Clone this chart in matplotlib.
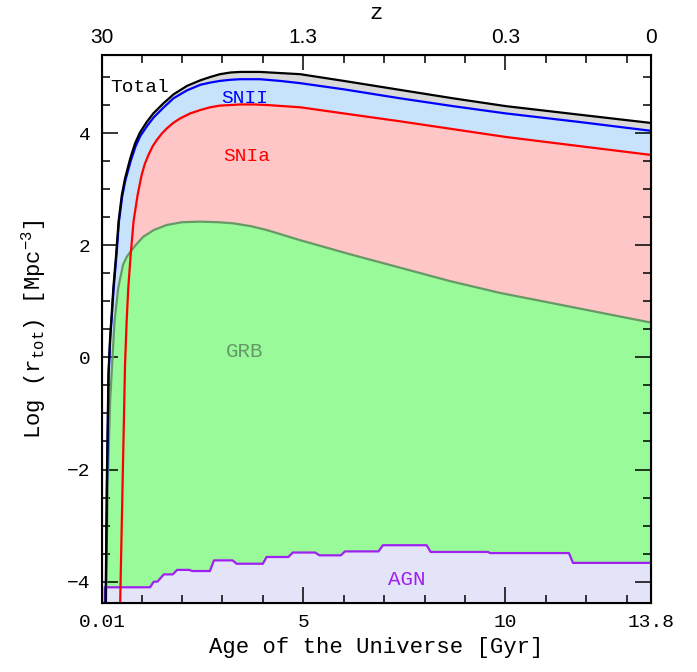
import numpy as np
import matplotlib
matplotlib.use("Agg")
import matplotlib.pyplot as plt
from matplotlib.ticker import FixedLocator, FixedFormatter

plt.rcParams['font.family'] = ['Liberation Mono', 'DejaVu Sans']
plt.rcParams['mathtext.fontset'] = 'custom'
plt.rcParams['mathtext.rm'] = 'Liberation Mono'
plt.rcParams['mathtext.it'] = 'Liberation Mono'

# =============================================================================
# Data (age in Gyr, log rate)
# =============================================================================
total_t = [0.10, 0.11, 0.14, 0.18, 0.22, 0.26, 0.30, 0.37, 0.43, 0.51, 0.59, 0.72, 0.84,
           0.96, 1.13, 1.29, 1.54, 1.79, 2.12, 2.45, 2.70, 2.94, 3.20, 3.44, 3.93, 4.42,
           4.92, 6.0, 7.39, 8.7, 10.01, 11.8, 13.6]
total_y = [-5.0, -4.38, -2.24, -0.3, 0.34, 0.76, 1.23, 1.83, 2.42, 2.89, 3.19, 3.55, 3.82,
           4.01, 4.20, 4.35, 4.53, 4.69, 4.84, 4.94, 5.00, 5.05, 5.08, 5.09, 5.09, 5.07,
           5.05, 4.93, 4.77, 4.62, 4.48, 4.33, 4.18]

snii_t = [0.10, 0.115, 0.145, 0.185, 0.225, 0.265, 0.31, 0.38, 0.44, 0.52, 0.60, 0.73, 0.85,
          0.97, 1.14, 1.30, 1.55, 1.79, 2.12, 2.45, 2.70, 2.94, 3.20, 3.44, 3.93, 4.42,
          4.92, 6.0, 7.39, 8.7, 10.01, 11.8, 13.6]
snii_y = [-5.0, -4.38, -2.24, -0.3, 0.34, 0.76, 1.23, 1.83, 2.42, 2.87, 3.16, 3.50, 3.76,
          3.95, 4.13, 4.28, 4.46, 4.62, 4.76, 4.86, 4.90, 4.93, 4.95, 4.96, 4.96, 4.93,
          4.89, 4.78, 4.62, 4.48, 4.35, 4.20, 4.04]

snia_t = [0.45, 0.47, 0.59, 0.63, 0.67, 0.73, 0.80, 0.90, 1.00, 1.08, 1.17, 1.27, 1.38,
          1.50, 1.62, 1.78, 1.95, 2.20, 2.45, 2.70, 2.94, 3.20, 3.44, 3.80, 4.10, 4.92,
          6.2, 7.39, 8.7, 10.01, 11.8, 13.6]
snia_y = [-5.0, -4.38, -0.14, 0.64, 1.23, 1.83, 2.42, 2.89, 3.25, 3.45, 3.61, 3.76, 3.88,
          3.99, 4.08, 4.18, 4.26, 4.35, 4.41, 4.46, 4.49, 4.50, 4.51, 4.51, 4.50, 4.46,
          4.33, 4.21, 4.07, 3.93, 3.77, 3.61]

grb_t = [0.10, 0.12, 0.16, 0.22, 0.27, 0.33, 0.42, 0.54, 0.63, 0.72, 0.85, 1.04, 1.30,
         1.62, 2.00, 2.45, 2.90, 3.27, 3.70, 4.10, 4.92, 6.15, 7.39, 8.63, 9.86, 11.1,
         12.33, 13.6]
grb_y = [-5.0, -4.38, -2.3, -0.8, -0.14, 0.64, 1.23, 1.65, 1.79, 1.88, 2.00, 2.15, 2.27,
         2.36, 2.41, 2.42, 2.41, 2.39, 2.34, 2.27, 2.09, 1.84, 1.60, 1.36, 1.15, 0.975,
         0.80, 0.62]

agn_t = [0.09, 0.09, 1.21, 1.30, 1.39, 1.55, 1.77, 1.88, 2.18, 2.25, 2.69, 2.79, 3.25,
         3.35, 4.00, 4.09, 4.63, 4.74, 5.29, 5.40, 5.93, 6.03, 6.86, 6.97, 8.05, 8.15,
         9.57, 9.62, 11.57, 11.67, 13.6]
agn_y = [-5.0, -4.10, -4.10, -4.00, -4.00, -3.87, -3.87, -3.79, -3.79, -3.81, -3.81, -3.62,
         -3.62, -3.68, -3.68, -3.56, -3.56, -3.48, -3.48, -3.53, -3.53, -3.46, -3.46, -3.35,
         -3.35, -3.47, -3.47, -3.49, -3.49, -3.665, -3.665]

x_lim = (0.02, 13.6)
y_lim = (-4.38, 5.39)
bottom_labels = ["0.01", "5", "10", "13.8"]
top_labels = ["30", "1.3", "0.3", "0"]

# =============================================================================
# Figure
# =============================================================================
fig = plt.figure(figsize=(6.97, 6.72), dpi=100)
ax = fig.add_axes([0.1463, 0.1027, 0.934 - 0.1463, 0.918 - 0.1027])

# stacked-looking fills, drawn back to front
floor = -10
ax.fill_between(total_t, total_y, floor, color='#d9d9d9', lw=0)
ax.fill_between(snii_t, snii_y, floor, color='#c6e3fb', lw=0)
ax.fill_between(snia_t, snia_y, floor, color='#fec6c6', lw=0)
ax.fill_between(grb_t, grb_y, floor, color='#98fa98', lw=0)
ax.fill_between(agn_t, agn_y, floor, color='#e4e4f8', lw=0)

ax.plot(agn_t, agn_y, color='#a020f0', lw=1.6)
ax.plot(grb_t, grb_y, color='#669966', lw=1.6)
ax.plot(snia_t, snia_y, color='red', lw=1.6)
ax.plot(snii_t, snii_y, color='blue', lw=1.6)
ax.plot(total_t, total_y, color='black', lw=1.6)

ax.text(0.22, 4.82, "Total", color='black', fontsize=14, ha='left', va='center')
ax.text(3.56, 4.62, "SNII", color='blue', fontsize=14, ha='center', va='center')
ax.text(3.60, 3.58, "SNIa", color='red', fontsize=14, ha='center', va='center')
ax.text(3.55, 0.11, "GRB", color='#669966', fontsize=15, ha='center', va='center')
ax.text(7.56, -3.97, "AGN", color='#a020f0', fontsize=15, ha='center', va='center')

ax.set_xlim(*x_lim)
ax.set_ylim(*y_lim)

major_x = [x_lim[0], 5, 10, x_lim[1]]
minor_x = [1, 2, 3, 4, 6, 7, 8, 9, 11, 12, 13]
ax.xaxis.set_major_locator(FixedLocator(major_x))
ax.xaxis.set_major_formatter(FixedFormatter(bottom_labels))
ax.xaxis.set_minor_locator(FixedLocator(minor_x))
ax.yaxis.set_major_locator(FixedLocator([-4, -2, 0, 2, 4]))
ax.yaxis.set_minor_locator(FixedLocator(np.arange(-4, 5.01, 0.5)))

ax.tick_params(which='both', direction='in', right=True, width=1.1, labelsize=14)
ax.tick_params(which='major', length=11.5, pad=8)
ax.tick_params(which='minor', length=5.8)
ax.tick_params(axis='x', top=False)
for s in ax.spines.values():
    s.set_linewidth(1.5)

ax.set_xlabel("Age of the Universe [Gyr]", fontsize=16, labelpad=4)
ax.set_ylabel(r"Log (r$_{\mathrm{tot}}$) [Mpc$^{\mathrm{-3}}$]", fontsize=16, labelpad=14)

# redshift axis on top
top = ax.twiny()
top.set_xlim(*x_lim)
top.xaxis.set_major_locator(FixedLocator(major_x))
top.xaxis.set_major_formatter(FixedFormatter(top_labels))
top.xaxis.set_minor_locator(FixedLocator(minor_x))
top.tick_params(which='both', direction='in', width=1.1, labelsize=15, pad=6)
top.tick_params(which='major', length=11)
top.tick_params(which='minor', length=5.8)
for lbl in top.get_xticklabels():
    lbl.set_family(['Liberation Sans', 'DejaVu Sans'])
top.set_xlabel("z", fontsize=16, labelpad=6)

fig.savefig("out.png", dpi=100)
